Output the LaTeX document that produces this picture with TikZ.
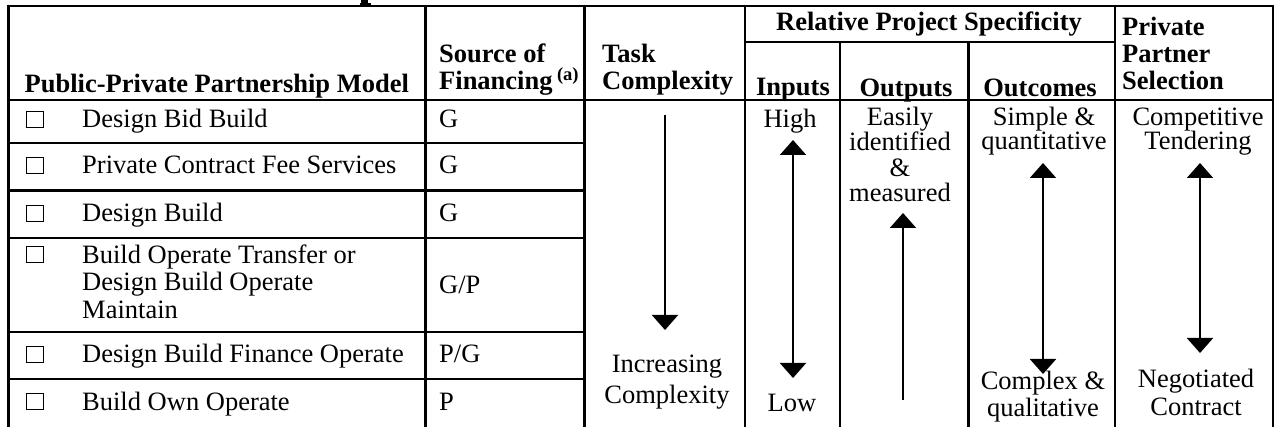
\documentclass[tikz,border=0pt]{standalone}
\usepackage{fontspec}
\setmainfont{Liberation Serif}
\usetikzlibrary{arrows.meta}
\newcommand\tabfont{\fontsize{26.5}{27.5}\selectfont}
\newcommand\headfont{\fontsize{26.5}{27.5}\selectfont\bfseries}
\begin{document}
\begin{tikzpicture}[x=1pt,y=-1pt,
  rule/.style={line width=2.4pt,line cap=rect},
  cell/.style={inner sep=0pt,font=\tabfont},
  head/.style={inner sep=0pt,font=\headfont},
  cellL/.style={cell,anchor=base west},
  cellC/.style={cell,anchor=base},
  headL/.style={head,anchor=base west},
  headC/.style={head,anchor=base},
  tick/.style={draw,line width=1pt,minimum width=17pt,minimum height=16pt,inner sep=0pt,anchor=south west},
  scale arrow/.style={line width=2pt,{Triangle[width=26pt,length=15pt]}-{Triangle[width=26pt,length=15pt]}},
  down arrow/.style={line width=2pt,-{Triangle[width=26pt,length=15pt]}}
]
\useasboundingbox (0,0) rectangle (1277,427);

% column borders
\def\ca{8.5}\def\cb{425.5}\def\cc{584.3}\def\cd{745}\def\ce{840}\def\cf{968.3}\def\cg{1115}\def\ch{1273}

% clipped descender of the caption line above the table
\fill (361,0) rectangle (368,5);
\fill (359.5,3) rectangle (370.5,5);

% grid
\draw[rule] (\ca,6) -- (\ch,6);
\foreach \x in {\ca,\cb,\cc,\cd,\cg,\ch} \draw[rule] (\x,6) -- (\x,430);
\foreach \x in {\ce,\cf} \draw[rule] (\x,42) -- (\x,430);
\draw[rule] (\cd,42) -- (\cg,42);
\draw[rule] (\ca,100) -- (\ch,100);
\foreach \y in {143,190.5,238,332,379} \draw[rule] (\ca,\y) -- (\cc,\y);

% header row
\node[headC] (hmodel) at (216.8,93) {Public-Private Partnership Model};
\node[headL] (hsrc1) at (439,63) {Source of};
\node[headL] (hsrc2) at (439,90) {Financing\,\textsuperscript{(a)}};
\node[headL] (htask1) at (602,63) {Task};
\node[headL] (htask2) at (602,90) {Complexity};
\node[headC] (hrel) at (929,31) {Relative Project Specificity};
\node[headC] (hin) at (793,96) {Inputs};
\node[headC] (hout) at (906,97) {Outputs};
\node[headC] (hoc) at (1040,97) {Outcomes};
\node[headL] (hpp1) at (1122,36) {Private};
\node[headL] (hpp2) at (1122,63) {Partner};
\node[headL] (hpp3) at (1122,90) {Selection};

% partnership models and financing source
\node[tick] (b1) at (25.5,128) {};
\node[cellL] (m1) at (82,128) {Design Bid Build};
\node[cellL] (f1) at (439,128) {G};
\node[tick] (b2) at (25.5,174) {};
\node[cellL] (m2) at (82,174) {Private Contract Fee Services};
\node[cellL] (f2) at (439,174) {G};
\node[tick] (b3) at (25.5,222) {};
\node[cellL] (m3) at (82,222) {Design Build};
\node[cellL] (f3) at (439,222) {G};
\node[tick] (b4) at (25.5,263.5) {};
\node[cellL] (m4a) at (82,263.5) {Build Operate Transfer or};
\node[cellL] (m4b) at (82,291) {Design Build Operate};
\node[cellL] (m4c) at (82,318.5) {Maintain};
\node[cellL] (f4) at (439,294) {G/P};
\node[tick] (b5) at (25.5,363) {};
\node[cellL] (m5) at (82,363) {Design Build Finance Operate};
\node[cellL] (f5) at (439,363) {P/G};
\node[tick] (b6) at (25.5,410) {};
\node[cellL] (m6) at (82,410) {Build Own Operate};
\node[cellL] (f6) at (439,410) {P};

% task complexity
\coordinate (tTop) at (665,115);
\coordinate (tBot) at (665,330);
\draw[down arrow] (tTop) -- (tBot);
\node[cellC] (tc1) at (667,373) {Increasing};
\node[cellC] (tc2) at (667,403) {Complexity};

% inputs
\node[cellC] (inHi) at (790,128) {High};
\node[cellC] (inLo) at (792,412) {Low};
\coordinate (iTop) at (793,140);
\coordinate (iBot) at (793,378);
\draw[scale arrow] (iTop) -- (iBot);

% outputs
\node[cellC] (o1) at (900,126) {Easily};
\node[cellC] (o2) at (900,151) {identified};
\node[cellC] (o3) at (900,177) {\&};
\node[cellC] (o4) at (900,202) {measured};
\coordinate (oBot) at (903,400);
\coordinate (oTop) at (903,213);
\draw[down arrow] (oBot) -- (oTop);

% outcomes
\node[cellC] (q1) at (1044,126) {Simple \&};
\node[cellC] (q2) at (1044,150) {quantitative};
\coordinate (qTop) at (1043,163);
\coordinate (qBot) at (1043,374);
\draw[scale arrow] (qTop) -- (qBot);
\node[cellC] (q3) at (1043,389) {Complex \&};
\node[cellC] (q4) at (1043,417) {qualitative};

% private partner selection
\node[cellC] (p1) at (1198,126) {Competitive};
\node[cellC] (p2) at (1198,150) {Tendering};
\coordinate (pTop) at (1200,163);
\coordinate (pBot) at (1200,353);
\draw[scale arrow] (pTop) -- (pBot);
\node[cellC] (p3) at (1196,388) {Negotiated};
\node[cellC] (p4) at (1196,415) {Contract};
\end{tikzpicture}
\end{document}
